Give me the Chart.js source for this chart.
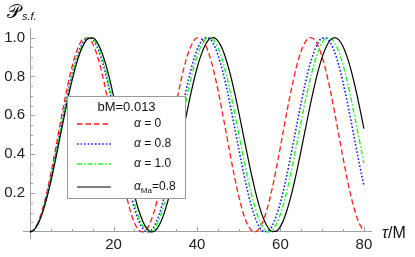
<!DOCTYPE html>
<html>
<head>
<meta charset="utf-8">
<script src="https://cdn.jsdelivr.net/npm/chart.js@4.4.1/dist/chart.umd.min.js"></script>
<style>
html, body { margin: 0; padding: 0; background: #fff; }
#c { display: block; }
</style>
</head>
<body>
<canvas id="c" width="415" height="257"></canvas>
<script>
// tau/M sample points
const tau = [0,1,2,3,4,5,6,7,8,9,10,11,12,13,14,15,16,17,18,19,20,21,22,23,24,25,26,27,28,29,30,
	31,32,33,34,35,36,37,38,39,40,41,42,43,44,45,46,47,48,49,50,51,52,53,54,55,56,57,58,59,60,
	61,62,63,64,65,66,67,68,69,70,71,72,73,74,75,76,77,78,79,80];

// P_s.f.
const alpha0 = [0,0.014,0.054,0.118,0.203,0.304,0.416,0.532,0.646,0.753,0.846,0.920,0.972,0.997,0.996,0.968,0.914,0.838,0.743,0.636,0.520,
	0.404,0.293,0.194,0.110,0.048,0.011,0.000,0.016,0.059,0.125,0.212,0.315,0.427,0.544,0.658,0.763,0.855,0.926,0.975,0.998,
	0.994,0.963,0.907,0.829,0.733,0.624,0.509,0.393,0.283,0.184,0.103,0.044,0.009,0.001,0.020,0.065,0.133,0.222,0.326,0.439,
	0.556,0.669,0.773,0.863,0.932,0.979,0.999,0.992,0.959,0.900,0.820,0.723,0.613,0.497,0.381,0.272,0.175,0.096,0.039,0.007];
const alpha08 = [0,0.012,0.049,0.108,0.186,0.279,0.384,0.494,0.605,0.711,0.806,0.885,0.946,0.985,1.000,0.990,0.956,0.899,0.823,0.730,0.627,
	0.517,0.405,0.300,0.203,0.122,0.059,0.018,0.000,0.008,0.040,0.094,0.169,0.260,0.363,0.472,0.583,0.690,0.787,0.871,0.936,
	0.979,0.999,0.994,0.965,0.912,0.840,0.750,0.648,0.539,0.428,0.320,0.222,0.137,0.070,0.024,0.002,0.004,0.031,0.082,0.152,
	0.240,0.341,0.450,0.561,0.669,0.769,0.856,0.924,0.972,0.997,0.997,0.972,0.924,0.856,0.769,0.669,0.561,0.450,0.341,0.240];
const alpha10 = [0,0.012,0.047,0.105,0.181,0.273,0.375,0.484,0.593,0.698,0.793,0.874,0.937,0.980,0.999,0.994,0.965,0.915,0.844,0.756,0.657,
	0.550,0.440,0.333,0.234,0.148,0.079,0.031,0.004,0.002,0.023,0.068,0.133,0.216,0.312,0.418,0.527,0.636,0.737,0.828,0.902,
	0.957,0.990,1.000,0.985,0.948,0.889,0.811,0.718,0.614,0.506,0.397,0.292,0.198,0.119,0.057,0.017,0.000,0.008,0.039,0.092,
	0.164,0.253,0.354,0.462,0.571,0.677,0.775,0.859,0.926,0.973,0.997,0.997,0.973,0.926,0.859,0.775,0.677,0.571,0.462,0.354];
const alphaMa08 = [0,0.012,0.046,0.101,0.174,0.262,0.362,0.468,0.575,0.679,0.774,0.857,0.924,0.971,0.996,0.998,0.978,0.935,0.872,0.792,0.699,
	0.596,0.489,0.383,0.281,0.191,0.114,0.055,0.017,0.000,0.007,0.037,0.088,0.158,0.244,0.341,0.446,0.554,0.659,0.756,0.842,
	0.912,0.963,0.993,1.000,0.983,0.945,0.886,0.809,0.718,0.617,0.510,0.404,0.301,0.208,0.128,0.065,0.023,0.002,0.004,0.029,
	0.076,0.143,0.226,0.321,0.425,0.532,0.638,0.737,0.826,0.899,0.954,0.988,1.000,0.988,0.954,0.899,0.826,0.737,0.638,0.532];

const xTicks = [20, 40, 60, 80];
const yTicks = [0.2, 0.4, 0.6, 0.8, 1.0];
const legendTitle = "bM=0.013";
// [symbol, subscript, rest]
const legendLabels = [["α", "", " = 0"], ["α", "", " = 0.8"], ["α", "", " = 1.0"], ["α", "Ma", "=0.8"]];

const axisGray = "#a3a3a3";
const FONT = "'Liberation Sans', Arial, sans-serif";

function pts(ys){
	return tau.map((t, i) => ({x: t, y: ys[i]}));
}

const decor = {
	id: "decor",
	beforeDatasetsDraw(chart){
		const {ctx, scales: {x, y}} = chart;
		const x0 = x.getPixelForValue(0), y0 = y.getPixelForValue(0);
		ctx.save();
		ctx.strokeStyle = axisGray;
		ctx.lineWidth = 1;
		ctx.beginPath();
		for(let v = 5; v <= 80; v += 5){
			let px = Math.round(x.getPixelForValue(v)) + 0.5;
			let len = v % 20 == 0 ? 5 : 3;
			ctx.moveTo(px, y0);
			ctx.lineTo(px, y0 - len);
		}
		for(let k = 1; k <= 20; k++){
			let py = Math.round(y.getPixelForValue(k * 0.05)) + 0.5;
			let len = k % 4 == 0 ? 5 : 3;
			ctx.moveTo(x0, py);
			ctx.lineTo(x0 + len, py);
		}
		ctx.stroke();

		// tick labels
		ctx.fillStyle = "#222";
		ctx.font = "15px " + FONT;
		ctx.textAlign = "center";
		ctx.textBaseline = "top";
		for(let v of xTicks)
			ctx.fillText(String(v), x.getPixelForValue(v), y0 + 5);
		ctx.textAlign = "right";
		ctx.textBaseline = "middle";
		for(let v of yTicks)
			ctx.fillText(v.toFixed(1), x0 - 5, y.getPixelForValue(v));
		ctx.restore();
	},
	afterDraw(chart){
		const {ctx, scales: {x, y}} = chart;
		const y0 = y.getPixelForValue(0);
		ctx.save();
		ctx.fillStyle = "#111";
		ctx.textBaseline = "alphabetic";
		ctx.textAlign = "left";
		// axis labels
		ctx.font = "italic 16px " + FONT;
		ctx.fillText("τ", 382, y0 + 6);
		let w = ctx.measureText("τ").width;
		ctx.font = "16px " + FONT;
		ctx.fillText("/M", 382 + w, y0 + 6);

		ctx.font = "19px 'DejaVu Sans', 'DejaVu Serif', serif";
		ctx.fillText("𝒫", 7, 18);
		w = ctx.measureText("𝒫").width;
		ctx.font = "italic 11px " + FONT;
		ctx.fillText("s.f.", 7 + w + 1, 20);

		// legend
		const bx = 67.5, by = 96.5, bw = 118, bh = 102;
		ctx.fillStyle = "#fff";
		ctx.fillRect(bx, by, bw, bh);
		ctx.strokeStyle = "#9a9a9a";
		ctx.lineWidth = 1;
		ctx.strokeRect(bx, by, bw, bh);
		ctx.fillStyle = "#111";
		ctx.font = "13px " + FONT;
		ctx.textAlign = "center";
		ctx.textBaseline = "middle";
		ctx.fillText(legendTitle, bx + bw / 2, 107);
		const rows = [124, 144, 164, 187];
		chart.data.datasets.forEach((ds, i) => {
			let ry = rows[i];
			ctx.save();
			ctx.strokeStyle = ds.borderColor;
			ctx.lineWidth = ds.borderWidth;
			ctx.setLineDash(ds.borderDash || []);
			ctx.beginPath();
			ctx.moveTo(77, ry);
			ctx.lineTo(111, ry);
			ctx.stroke();
			ctx.restore();
			let [sym, sub, rest] = legendLabels[i];
			let lx = 134;
			ctx.textAlign = "left";
			ctx.font = "italic 12px " + FONT;
			ctx.fillText(sym, lx, ry);
			lx += ctx.measureText(sym).width;
			if(sub){
				ctx.font = "8px " + FONT;
				ctx.fillText(sub, lx, ry + 4);
				lx += ctx.measureText(sub).width;
			}
			ctx.font = "12px " + FONT;
			ctx.fillText(rest, lx, ry);
		});
		ctx.restore();
	}
};

new Chart(document.getElementById("c"), {
	type: "line",
	data: {
		datasets: [{
			label: "α = 0",
			data: pts(alpha0),
			borderColor: "#ff1a1a",
			borderDash: [5.5, 3],
			borderWidth: 1.3,
			order: 4
		},{
			label: "α = 0.8",
			data: pts(alpha08),
			borderColor: "#1a1aff",
			borderDash: [1.6, 2],
			borderWidth: 1.6,
			order: 3
		},{
			label: "α = 1.0",
			data: pts(alpha10),
			borderColor: "#1aff1a",
			borderDash: [5, 2, 1.6, 2],
			borderWidth: 1.4,
			order: 2
		},{
			label: "α_Ma=0.8",
			data: pts(alphaMa08),
			borderColor: "#000",
			borderWidth: 1.2,
			order: 1
		}]
	},
	options: {
		responsive: false,
		animation: false,
		layout: {padding: {left: 23, right: 44, top: 28, bottom: 19}},
		elements: {
			point: {radius: 0},
			line: {cubicInterpolationMode: "monotone", fill: false}
		},
		plugins: {
			legend: {display: false},
			tooltip: {enabled: false}
		},
		scales: {
			x: {
				type: "linear",
				min: -1.7,
				max: 81.7,
				position: {y: 0},
				grid: {display: false, drawTicks: false},
				border: {display: true, color: axisGray, width: 1},
				ticks: {display: false}
			},
			y: {
				type: "linear",
				min: -0.031,
				max: 1.049,
				position: {x: 0},
				grid: {display: false, drawTicks: false},
				border: {display: true, color: axisGray, width: 1},
				ticks: {display: false}
			}
		}
	},
	plugins: [decor]
});
</script>
</body>
</html>
